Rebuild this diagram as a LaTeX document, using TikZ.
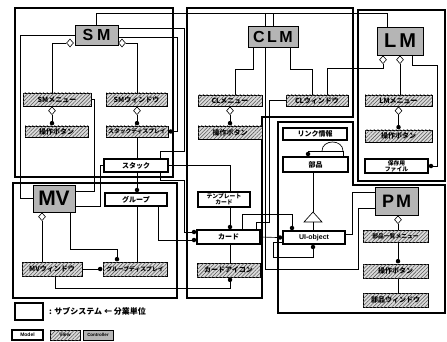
\documentclass[tikz,border=0pt]{standalone}
\usepackage{fontspec}
\setmainfont{Noto Sans CJK JP}
\newfontfamily\latf{Liberation Sans}
\usetikzlibrary{shapes.geometric,patterns.meta,calc}
\pgfdeclarelayer{bg}
\pgfsetlayers{bg,main}
\begin{document}
\begin{tikzpicture}[x=1pt,y=-1pt,
  every node/.style={inner sep=0pt, font=\fontsize{7}{7.6}\selectfont\bfseries},
  boxbase/.style={draw, line width=0.8pt, align=center},
  model/.style={boxbase, fill=white, line width=1.1pt},
  view/.style={boxbase, fill=gray!28, postaction={pattern={Lines[angle=45,distance=2.6pt,line width=0.55pt]}, pattern color=black!65}},
  ctrl/.style={boxbase, fill=gray!58, font=\latf\bfseries\fontsize{#1}{#1}\selectfont},
  subsys/.style={draw, line width=1.6pt},
  conn/.style={draw, line width=0.65pt},
  dia/.style={diamond, draw, fill=white, line width=0.6pt, minimum width=7pt, minimum height=8pt},
  pdot/.style={circle, fill=black, minimum size=4.5pt},
  small/.style={font=\fontsize{5.8}{6.2}\selectfont\bfseries},
]
\useasboundingbox (0,0) rectangle (447,342);

% controllers
\node[ctrl=16, minimum width=43pt, minimum height=20pt] (sm) at (96.5,35) {S\hspace{4pt}M};
\node[ctrl=16, minimum width=50pt, minimum height=21pt] (clm) at (273,36.5) {C\hspace{2.5pt}L\hspace{2.5pt}M};
\node[ctrl=20, minimum width=46pt, minimum height=28pt] (lm) at (400,41) {L\hspace{3pt}M};
\node[ctrl=21, minimum width=42pt, minimum height=27pt] (mv) at (54,198.5) {MV};
\node[ctrl=18, minimum width=43pt, minimum height=28pt] (pm) at (396.5,201) {P\hspace{2pt}M};

% SM
\node[view, minimum width=68pt, minimum height=13pt] (smmenu) at (57,99.5) {SMメニュー};
\node[view, minimum width=61pt, minimum height=13pt] (smwin) at (136.5,99.5) {SMウィンドウ};
\node[view, minimum width=63pt, minimum height=11pt] (smbtn) at (56.5,131.5) {操作ボタン};
\node[view, small, minimum width=62pt, minimum height=11pt] (stackdisp) at (137,131.5) {スタックディスプレイ};
\node[model, minimum width=64pt, minimum height=13pt] (stack) at (136,165.5) {スタック};

% CLM
\node[view, minimum width=64pt, minimum height=11pt] (clmenu) at (230,100.5) {CLメニュー};
\node[view, minimum width=62pt, minimum height=11pt] (clwin) at (317,100.5) {CLウィンドウ};
\node[view, minimum width=64pt, minimum height=13pt] (clbtn) at (230,132.5) {操作ボタン};
\node[model, small, minimum width=52pt, minimum height=15pt] (tmpl) at (224,199.5) {テンプレート\\カード};
\node[model, minimum width=63pt, minimum height=14pt] (card) at (228.5,237) {カード};
\node[view, minimum width=63pt, minimum height=14pt] (cardicon) at (228.5,270) {カードアイコン};

% LM
\node[view, minimum width=67pt, minimum height=11pt] (lmmenu) at (398.5,100.5) {LMメニュー};
\node[view, minimum width=67pt, minimum height=12pt] (lmbtn) at (398.5,136) {操作ボタン};
\node[model, small, minimum width=63pt, minimum height=14pt] (file) at (396.5,166) {保存用\\ファイル};

% MV
\node[model, minimum width=62pt, minimum height=13pt] (grp) at (136,199.5) {グループ};
\node[view, minimum width=60pt, minimum height=14pt] (mvwin) at (52,269) {MVウィンドウ};
\node[view, small, minimum width=64pt, minimum height=14pt] (grpdisp) at (135,269) {グループディスプレイ};

% parts
\node[model, minimum width=64pt, minimum height=12pt] (link) at (315,134) {リンク情報};
\node[model, minimum width=65pt, minimum height=15pt] (parts) at (315.5,164.5) {部品};
\node[model, font=\latf\bfseries\fontsize{7}{7.5}\selectfont, minimum width=62pt, minimum height=13pt] (uiobj) at (314,237.5) {UI-object};

% PM
\node[view, small, minimum width=65pt, minimum height=12pt] (pmmenu) at (395.5,236) {部品一覧メニュー};
\node[view, minimum width=65pt, minimum height=14pt] (pmbtn) at (395.5,271) {操作ボタン};
\node[view, minimum width=65pt, minimum height=14pt] (pmwin) at (395.5,300) {部品ウィンドウ};

% diamonds and dots
\node[dia] (d1) at (70,43) {};
\node[dia] (d2) at (122,43) {};
\node[dia, anchor=north] (d3) at (52,0 |- smmenu.south) {};
\node[pdot, anchor=south] (o3) at (52,0 |- smbtn.north) {};
\node[dia, anchor=north] (d4) at (137,0 |- smwin.south) {};
\node[pdot, anchor=south] (o4) at (137,0 |- stackdisp.north) {};
\node[pdot, anchor=west] (o5) at (stackdisp.east) {};
\node[dia, anchor=north] (d6) at (230,0 |- clmenu.south) {};
\node[pdot, anchor=south] (o6) at (230,0 |- clbtn.north) {};
\node[dia, anchor=north] (d7) at (383,0 |- lm.south) {};
\node[dia, anchor=north] (d8) at (400,0 |- lm.south) {};
\node[dia, anchor=north] (d9) at (398.5,0 |- lmmenu.south) {};
\node[pdot, anchor=south] (o9) at (398.5,0 |- lmbtn.north) {};
\node[pdot, anchor=west] (o10) at (file.east) {};
\node[pdot, anchor=south] (o11) at (230,0 |- card.north) {};
\node[pdot, anchor=north] (o12) at (230,0 |- cardicon.south) {};
\node[pdot, anchor=east] (o13) at (card.west |- 0,232) {};
\node[pdot, anchor=east] (o14) at (card.west |- 0,240) {};
\node[pdot, anchor=south] (o15) at (137,0 |- grp.north) {};
\node[pdot, anchor=south] (o16) at (292,0 |- uiobj.north) {};
\node[pdot, anchor=east] (o17) at (uiobj.west) {};
\node[pdot, anchor=north] (o18) at (313,0 |- uiobj.south) {};
\node[pdot, anchor=south] (o19) at (308,0 |- parts.north) {};
\node[dia, anchor=north] (d20) at (42,0 |- mv.south) {};
\node[pdot, anchor=south] (o21) at (117,0 |- grpdisp.north) {};
\node[pdot, anchor=east] (o22) at (grpdisp.west) {};
\node[dia, anchor=north] (d23) at (398,0 |- pm.south) {};
\node[pdot, anchor=south] (o24) at (398,0 |- pmbtn.north) {};

% legend
\node[model, line width=1.5pt, minimum width=28pt, minimum height=17pt] (legsub) at (29,311.5) {};
\node[anchor=west, font=\fontsize{8}{8}\selectfont\bfseries] (legtxt) at (49,311.5) {: サブシステム ← 分業単位};
\node[model, font=\latf\bfseries\fontsize{5}{5}\selectfont, minimum width=31pt, minimum height=10pt] (legm) at (27.5,335) {Model};
\node[view, font=\latf\bfseries\fontsize{5}{5}\selectfont, minimum width=30pt, minimum height=10pt] (legv) at (65,335) {View};
\node[ctrl=4.5, minimum width=30pt, minimum height=10pt] (legc) at (98,335) {Controller};

\begin{pgfonlayer}{bg}
\fill[white] (0,0) rectangle (447,342);
% subsystems
\draw[subsys] (15,8) rectangle (173,177);
\draw[subsys] (13,183) rectangle (177,298);
\draw[subsys] (187,8) -- (353,8) -- (353,117) -- (262,117) -- (262,298) -- (187,298) -- cycle;
\draw[subsys] (358,10) rectangle (445,181);
\draw[subsys] (278,122) -- (353,122) -- (353,185) -- (445,185) -- (445,313) -- (278,313) -- cycle;

% SM connectors
\draw[conn] (d1.west) -| (52,0 |- smmenu.north);
\draw[conn] (d2.east) -| (137,0 |- smwin.north);
\draw[conn] (d3.south) -- (o3);
\draw[conn] (d4.south) -- (o4);
\draw[conn] (137,0 |- stackdisp.south) -- (137,0 |- stack.north);
\draw[conn] (sm.north) |- (387,13) -- (387,0 |- lm.north);
\draw[conn] (clm.north) -- (clm.north |- 0,13);
\draw[conn] (sm.west) -- (20,0 |- sm.west) |- (mv.west);
\draw[conn] (smmenu.east) -- (94,0 |- smmenu.east) |- (mv.east |- 0,191);
\draw[conn] (stack.west) -- (100,0 |- stack.west) |- (mv.east |- 0,206);
\draw[conn] (sm.east |- 0,28) -| (184,151) -| (160,0 |- stack.north);
\draw[conn] (sm.east |- 0,37) -| (177,0 |- stackdisp.east) -- (o5.east);
\draw[conn] (160,0 |- stack.south) |- (184,180) |- (o13.west);
\draw[conn] (137,0 |- stack.south) -- (o15.north);
\draw[conn] (stack.east) -| (230,0 |- tmpl.north);

% CLM connectors
\draw[conn] (253,0 |- clm.south) |- (235,69) -- (235,0 |- clmenu.north);
\draw[conn] (290,0 |- clm.south) |- (312,69) -- (312,0 |- clwin.north);
\draw[conn] (d6.south) -- (o6);
\draw[conn] (d7.south) |- (327,68) -- (327,0 |- clwin.north);

% LM connectors
\draw[conn] (d8.south) -- (400,0 |- lmmenu.north);
\draw[conn] (d9.south) -- (o9);
\draw[conn] (412,0 |- lm.south) |- (437,65) |- (o10.east);

% card connectors
\draw[conn] (230,0 |- tmpl.south) -- (o11);
\draw[conn] (230,0 |- card.south) -- (230,0 |- cardicon.north);
\draw[conn] (55,0 |- mvwin.south) |- (230,288) -- (o12.south);
\draw[conn] (158,0 |- grp.south) |- (o14.west);
\draw[conn] (242,0 |- card.north) |- (292,214) -- (o16.north);
\draw[conn] (256,0 |- card.north) |- (269,222) -- (269,0 |- clwin.west) -- (clwin.west);
\draw[conn] (card.east) -- (o17.west);
\draw[conn] (o18.south) |- (273,257) |- (uiobj.west |- 0,242);

% parts connectors
\draw[conn] (313,0 |- parts.south) -- (313,212);
\draw[conn, fill=white] (313,212) -- (322,222) -- (304,222) -- cycle;
\draw[conn] (313,222) -- (313,0 |- uiobj.north);
\draw[conn] (o19.north) |- (343,151) -- (343,0 |- parts.north);
\draw[conn] (322,151) .. controls (322,139) and (343,139) .. (343,151);

% PM connectors
\draw[conn] (265,13) -- (265,269) -| (358,208) -- (pm.west |- 0,208);
\draw[conn] (uiobj.east |- 0,234) -| (352,192) -- (pm.west |- 0,192);
\draw[conn] (d23.south) -- (398,0 |- pmmenu.north);
\draw[conn] (398,0 |- pmmenu.south) -- (o24);
\draw[conn] (398,0 |- pmbtn.south) -- (398,0 |- pmwin.north);

% MV connectors
\draw[conn] (d20.south) -- (42,0 |- mvwin.north);
\draw[conn] (70,0 |- mv.south) |- (117,249) -- (o21.north);
\draw[conn] (137,0 |- grp.south) -- (137,0 |- grpdisp.north);
\draw[conn] (mvwin.east) -- (o22.west);
\end{pgfonlayer}
\end{tikzpicture}
\end{document}
